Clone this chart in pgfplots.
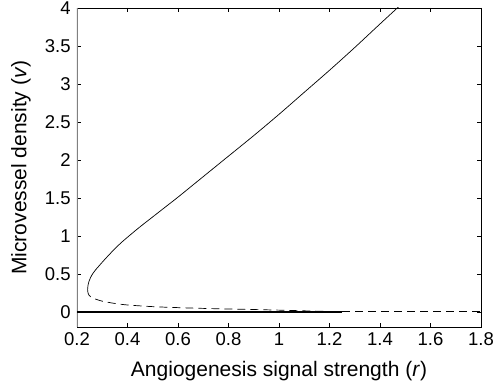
\documentclass[border=0pt]{standalone}
\usepackage{pgfplots}
\pgfplotsset{compat=1.18}
\usepackage{fontspec}
\setmainfont{Liberation Sans}
\begin{document}
\fontsize{18.5}{22}\selectfont
\begin{tikzpicture}
\begin{axis}[
  at={(0pt,0pt)}, anchor=south west,
  scale only axis,
  width=404pt, height=319pt,
  xmin=0.2, xmax=1.8, ymin=-0.2, ymax=4,
  xtick={0.2,0.4,0.6,0.8,1,1.2,1.4,1.6,1.8},
  xticklabels={0.2,0.4,0.6,0.8,1,1.2,1.4,1.6,1.8},
  ytick={0,0.5,1,1.5,2,2.5,3,3.5,4},
  yticklabels={0,0.5,1,1.5,2,2.5,3,3.5,4},
  tick align=inside,
  major tick length=4pt,
  tick style={black, line width=0.5pt},
  axis line style={black, line width=0.6pt},
  /pgf/number format/assume math mode=true,
  ticklabel style={font=\fontsize{18.5}{22}\selectfont},
  xticklabel style={yshift=1pt},
  label style={font=\fontsize{21}{25}\selectfont},
  xlabel={Angiogenesis signal strength (\textit{r})},
  ylabel={Microvessel density (\textit{v})},
  xlabel style={at={(axis description cs:0.5,-0.138)}, anchor=center},
  ylabel style={at={(axis description cs:-0.139,0.5)}, anchor=center},
  clip=true,
]
% left spine drawn grey (as in reference)
\addplot[gray, line width=1.8pt] coordinates {(0.2,-0.2) (0.2,4)};
% stable upper branch
\addplot[black, line width=0.7pt, smooth, tension=0.5] coordinates {
 (0.242,0.29) (0.2436,0.35) (0.2474,0.40) (0.2535,0.45) (0.262,0.50)
 (0.273,0.55) (0.286,0.60) (0.310,0.69) (0.344,0.81) (0.375,0.91)
 (0.410,1.01) (0.450,1.12) (0.500,1.25) (0.550,1.38) (0.600,1.51)
 (0.700,1.78) (0.800,2.05) (0.900,2.32) (1.000,2.60) (1.100,2.89)
 (1.200,3.18) (1.300,3.48) (1.400,3.79) (1.475,4.02)
};
% unstable lower branch
\addplot[black, line width=0.7pt, smooth, tension=0.5, dash pattern=on 8pt off 5pt] coordinates {
 (0.242,0.29) (0.2436,0.25) (0.247,0.22) (0.255,0.195) (0.265,0.178)
 (0.280,0.160) (0.300,0.14) (0.350,0.11) (0.400,0.09) (0.500,0.068)
 (0.600,0.055) (0.700,0.045) (0.800,0.037) (0.900,0.030) (1.000,0.022)
 (1.100,0.013) (1.200,0.005) (1.250,0)
};
% trivial steady state: stable then unstable
\addplot[black, line width=2pt] coordinates {(0.2,0) (1.25,0)};
\addplot[black, line width=0.7pt, dash pattern=on 8pt off 5pt] coordinates {(1.25,0) (1.8,0)};
\end{axis}
\pgfresetboundingbox
\useasboundingbox (-77pt,-58pt) rectangle (417pt,327pt);
\end{tikzpicture}
\end{document}
